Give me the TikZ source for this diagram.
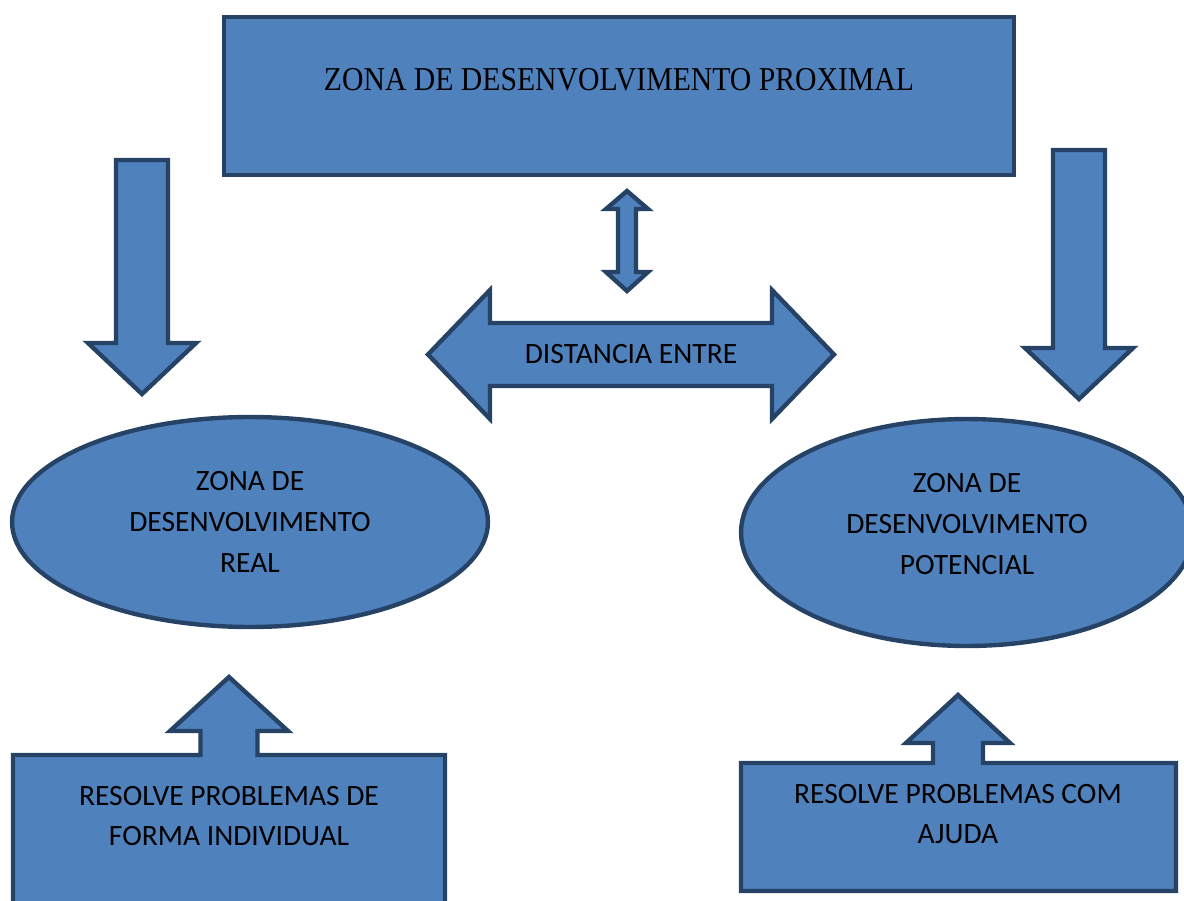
\documentclass[tikz,border=0pt]{standalone}
\usepackage{fontspec}
\setmainfont{Liberation Serif}
\newfontfamily\calibri{Carlito}
\usetikzlibrary{shapes.geometric}
\definecolor{blockfill}{HTML}{4F81BD}
\definecolor{blockline}{HTML}{264366}
\begin{document}
\begin{tikzpicture}[x=0.02cm,y=-0.02cm,
    blockshape/.style={draw=blockline,fill=blockfill,line width=2.5pt,line join=miter},
    blob/.style={blockshape,ellipse,inner sep=0pt},
    txt/.style={font=\calibri\fontsize{16.8}{23.3}\selectfont,align=center,text=black},
    serif/.style={font=\fontsize{19}{22}\selectfont,text=black,xscale=0.89,transform shape}]
  \useasboundingbox (0,0) rectangle (1184,900);
  % top box
  \draw[blockshape] (224,17) rectangle (1014,175);
  \node[serif] (proximal) at (619,80) {ZONA DE DESENVOLVIMENTO PROXIMAL};
  % arrows down
  \draw[blockshape] (116,160) -- (168,160) -- (168,343) -- (196,343) -- (142,394)
    -- (88,343) -- (116,343) -- cycle;
  \draw[blockshape] (1053,150) -- (1105,150) -- (1105,348) -- (1133,348) -- (1079,399)
    -- (1025,348) -- (1053,348) -- cycle;
  % small double arrow
  \draw[blockshape] (627,191) -- (648,209) -- (636,209) -- (636,272) -- (648,272)
    -- (627,291) -- (606,272) -- (618,272) -- (618,209) -- (606,209) -- cycle;
  % distance arrow
  \draw[blockshape] (428,354.5) -- (490,290) -- (490,323) -- (772,323) -- (772,290)
    -- (834,354.5) -- (772,419) -- (772,386) -- (490,386) -- (490,419) -- cycle;
  \node[txt] (distancia) at (631,354) {DISTANCIA ENTRE};
  % zones
  \node[blob,minimum width=9.52cm,minimum height=4.2cm] (real) at (250,522) {};
  \node[txt] (realtxt) at (250,522) {ZONA DE\\DESENVOLVIMENTO\\REAL};
  \node[blob,minimum width=9.04cm,minimum height=4.54cm] (potencial) at (967,532.5) {};
  \node[txt] (potencialtxt) at (967,524) {ZONA DE\\DESENVOLVIMENTO\\POTENCIAL};
  % boxes with arrows up
  \draw[blockshape] (13,910) -- (13,755) -- (200.5,755) -- (200.5,731) -- (170,731)
    -- (229,677) -- (288,731) -- (257.5,731) -- (257.5,755) -- (445,755) -- (445,910) -- cycle;
  \node[txt] (individual) at (229,816) {RESOLVE PROBLEMAS DE\\FORMA INDIVIDUAL};
  \draw[blockshape] (741,891) -- (741,763) -- (933,763) -- (933,743) -- (906,743)
    -- (958,695) -- (1010,743) -- (983,743) -- (983,763) -- (1176,763) -- (1176,891) -- cycle;
  \node[txt] (ajuda) at (958,814) {RESOLVE PROBLEMAS COM\\AJUDA};
\end{tikzpicture}
\end{document}
